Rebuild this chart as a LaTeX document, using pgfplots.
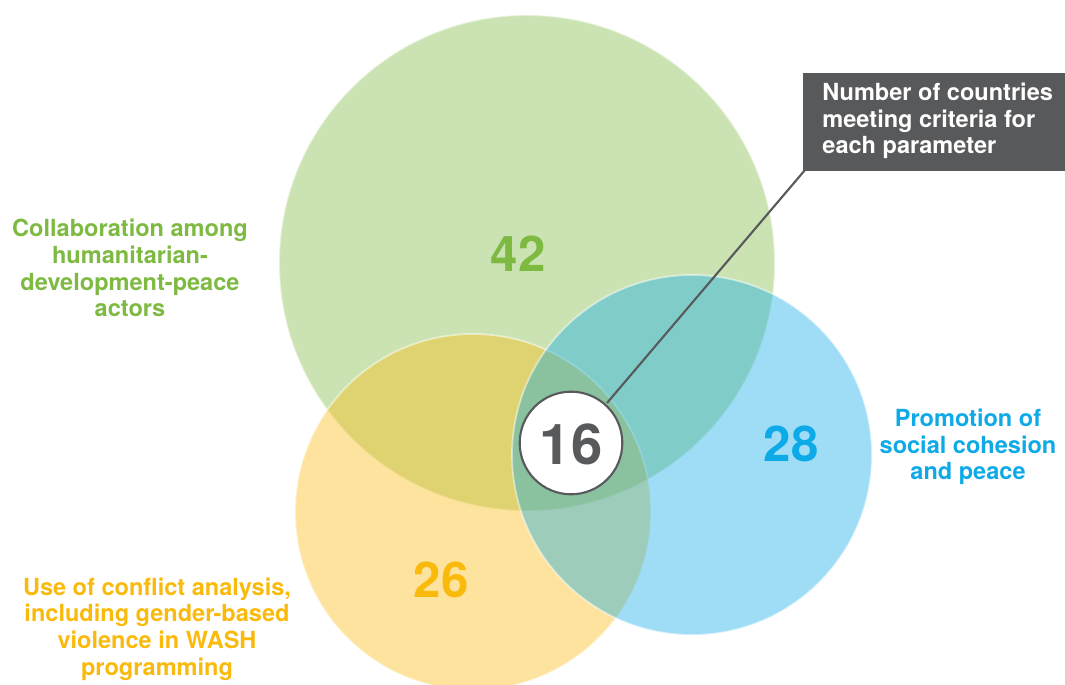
\documentclass[border=0pt]{standalone}
\usepackage{pgfplots}
\pgfplotsset{compat=1.18}
\usepackage{fontspec}
\setmainfont{TeX Gyre Heros}

\definecolor{cgreen}{RGB}{126,186,66}
\definecolor{cyellow}{RGB}{250,186,12}
\definecolor{cblue}{RGB}{14,170,232}
\definecolor{cgray}{RGB}{88,89,91}

\begin{document}
\begin{tikzpicture}
\useasboundingbox (0,0) rectangle (10.65cm,6.85cm);
\clip (0,0) rectangle (10.65cm,6.85cm);
\begin{axis}[
  hide axis, scale only axis,
  width=10.65cm, height=6.85cm,
  xmin=0, xmax=1065, ymin=0, ymax=685,
  y dir=reverse, clip=false, clip marker paths=true,
  every node/.style={font=\bfseries},
]
% circles: centre in pixel units, mark size = radius (px * 0.2845pt)
\addplot[only marks, mark=*, mark size=70.56pt,
  mark options={fill=cgreen, fill opacity=0.4, draw=white, draw opacity=0.5, line width=0.5pt}]
  coordinates {(527,263)};
\addplot[only marks, mark=*, mark size=50.64pt,
  mark options={fill=cyellow, fill opacity=0.4, draw=white, draw opacity=0.5, line width=0.5pt}]
  coordinates {(473,512)};
\addplot[only marks, mark=*, mark size=51.21pt,
  mark options={fill=cblue, fill opacity=0.4, draw=white, draw opacity=0.5, line width=0.5pt}]
  coordinates {(692,455)};

% callout box and leader line
\addplot[fill=cgray, draw=none]
  coordinates {(803,73) (1065,73) (1065,171) (803,171)} -- cycle;
\addplot[cgray, line width=0.6pt]
  coordinates {(805,170) (607,403)};
\addplot[only marks, mark=*, mark size=14.6pt,
  mark options={fill=white, draw=cgray, line width=0.6pt},
  nodes near coords={16}, nodes near coords align={center},
  every node near coord/.style={anchor=center, yshift=-0.4pt, text=cgray,
    font=\bfseries\fontsize{16}{16}\selectfont}]
  coordinates {(571,443)};

% numbers
\node[text=cgreen, font=\bfseries\fontsize{14}{14}\selectfont] at (axis cs:518,254) {42};
\node[text=cyellow, font=\bfseries\fontsize{14}{14}\selectfont] at (axis cs:441,580) {26};
\node[text=cblue, font=\bfseries\fontsize{14}{14}\selectfont] at (axis cs:791,444) {28};

% labels
\node[text=cgreen, align=center, font=\bfseries\fontsize{6.7}{7.6}\selectfont]
  at (axis cs:130,268) {Collaboration among\\humanitarian-\\development-peace\\actors};
\node[text=cblue, align=center, font=\bfseries\fontsize{6.7}{7.6}\selectfont]
  at (axis cs:968,447) {Promotion of\\social cohesion\\and peace};
\node[text=cyellow, align=center, font=\bfseries\fontsize{6.7}{7.6}\selectfont]
  at (axis cs:157,629) {Use of conflict analysis,\\including gender-based\\violence in WASH\\programming};
\node[text=white, align=left, anchor=west, font=\bfseries\fontsize{6.7}{7.6}\selectfont]
  at (axis cs:810,121) {Number of countries\\meeting criteria for\\each parameter};
\end{axis}
\end{tikzpicture}
\end{document}
